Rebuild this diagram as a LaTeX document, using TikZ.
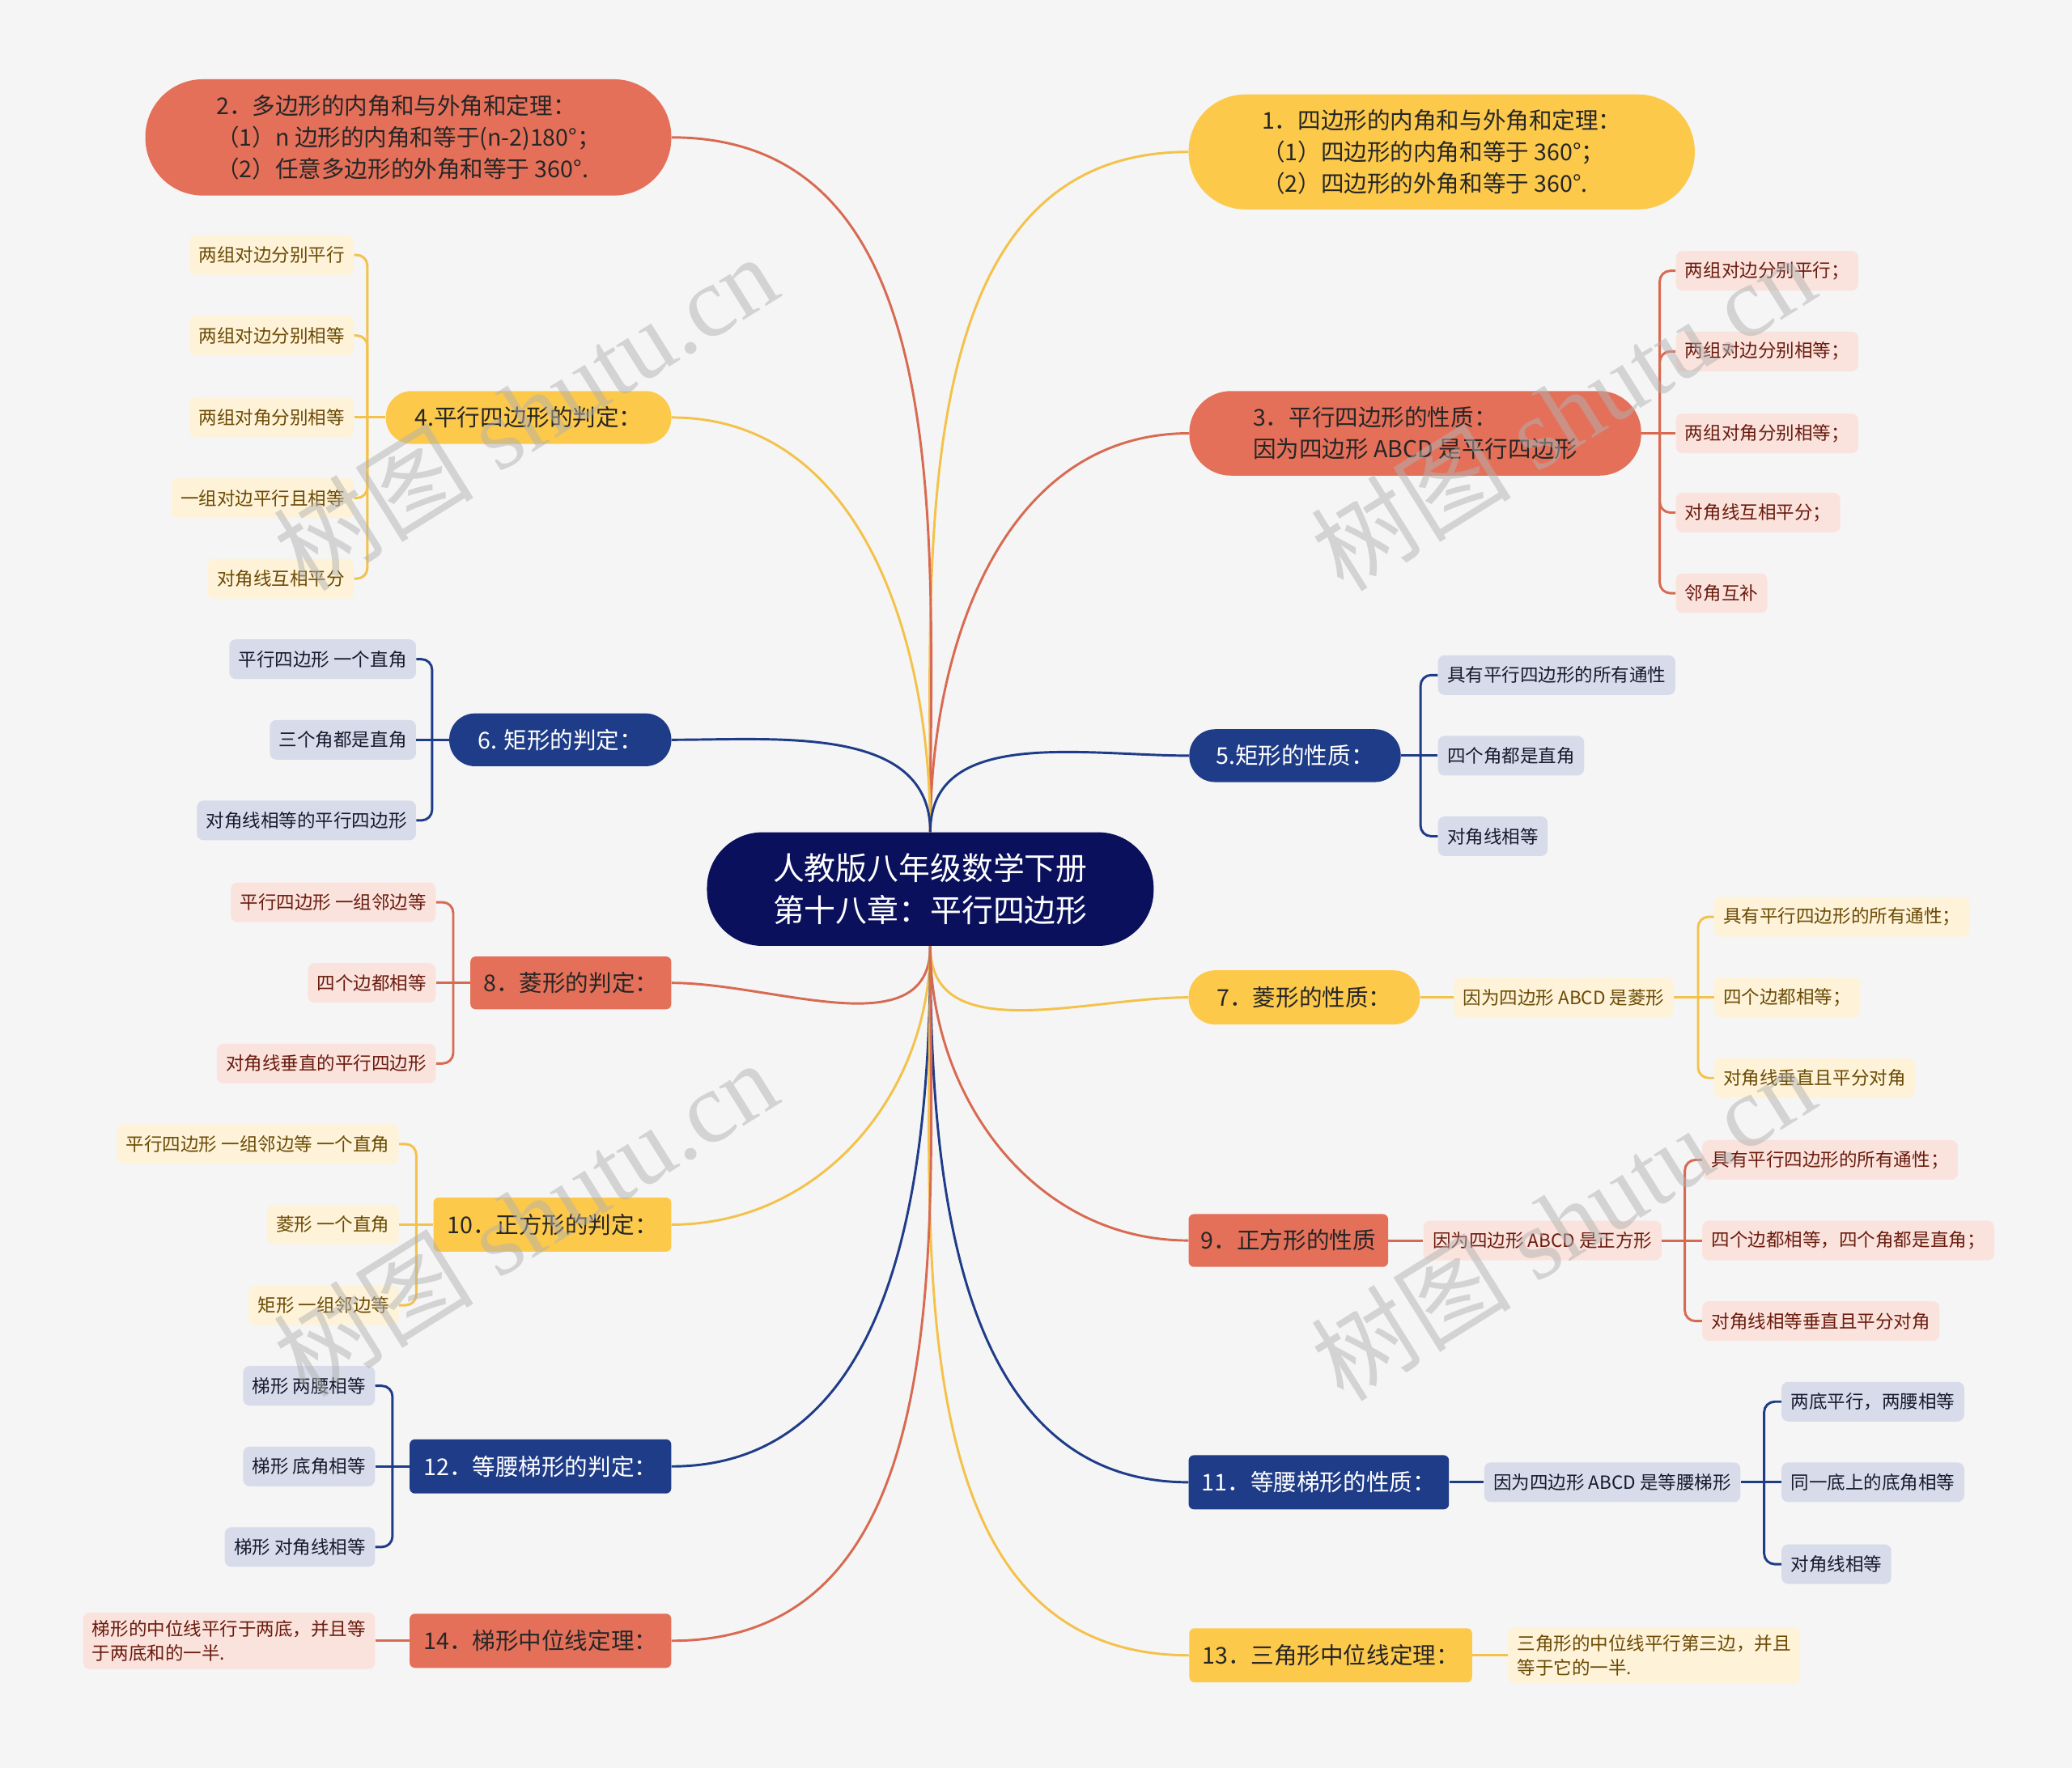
\documentclass[tikz,border=0pt]{standalone}
\usepackage{fontspec}
\setmainfont{Noto Sans CJK SC}
\newfontfamily\wmlatin{Liberation Serif}
\usetikzlibrary{positioning,calc}

\definecolor{paper}{HTML}{F5F5F5}
\definecolor{rootblue}{HTML}{0A105B}
\definecolor{topicred}{HTML}{E4705A}
\definecolor{topicyel}{HTML}{FCC94B}
\definecolor{topicnav}{HTML}{1F3C88}
\definecolor{leafred}{HTML}{FBE3DD}
\definecolor{leafyel}{HTML}{FEF3D8}
\definecolor{leafnav}{HTML}{D8DCEA}
\definecolor{inkred}{HTML}{6A1B0E}
\definecolor{inkyel}{HTML}{6B4A05}
\definecolor{inknav}{HTML}{161A2E}
\definecolor{linkred}{HTML}{D86A52}
\definecolor{linkyel}{HTML}{F4C24A}
\definecolor{linknav}{HTML}{1F3C88}

\begin{document}
\begin{tikzpicture}[
    x=1pt, y=1pt,
    root/.style={fill=rootblue, text=white, rounded corners=42pt, minimum width=338pt, minimum height=86pt, align=center, font=\fontsize{23.8}{32}\selectfont},
    topic/.style={minimum height=40pt, inner sep=0pt, align=left, font=\fontsize{17.5}{24}\selectfont},
    pill/.style={topic, rounded corners=19.5pt},
    tab/.style={topic, rounded corners=4pt},
    redtopic/.style={fill=topicred, text=black!85},
    yeltopic/.style={fill=topicyel, text=black!85},
    navtopic/.style={fill=topicnav, text=white},
    leaf/.style={rounded corners=5pt, minimum height=30pt, inner xsep=7pt, inner ysep=3pt, align=left, font=\fontsize{13.8}{18}\selectfont},
    redleaf/.style={leaf, fill=leafred, text=inkred},
    yelleaf/.style={leaf, fill=leafyel, text=inkyel},
    navleaf/.style={leaf, fill=leafnav, text=inknav},
    redlink/.style={draw=linkred, line width=1.8pt},
    yellink/.style={draw=linkyel, line width=1.8pt},
    navlink/.style={draw=linknav, line width=1.8pt},
    fork/.style={rounded corners=8pt},
    stamp/.style={text=black!30, opacity=0.5, transform shape, inner sep=0pt, anchor=base west, font=\fontsize{76}{76}\selectfont}
]
\useasboundingbox[fill=paper] (0,0) rectangle (1568,-1338);

% centre
\node[root] (root) at (704,-673) {人教版八年级数学下册\\第十八章：平行四边形};

% left branches
\node[pill, redtopic, minimum width=398pt, minimum height=88pt, rounded corners=43.5pt] (n2) at (309,-104) {2．多边形的内角和与外角和定理：\\（1）n 边形的内角和等于(n-2)180°；\\（2）任意多边形的外角和等于 360°.};
\node[pill, yeltopic, minimum width=216pt] (n4) at (400,-316) {4.平行四边形的判定：};
\node[pill, navtopic, minimum width=168pt] (n6) at (424,-560) {6. 矩形的判定：};
\node[tab, redtopic, minimum width=152pt] (n8) at (432,-744) {8．菱形的判定：};
\node[tab, yeltopic, minimum width=180pt, minimum height=41pt] (n10) at (418,-927) {10．正方形的判定：};
\node[tab, navtopic, minimum width=198pt, minimum height=41pt] (n12) at (409,-1110) {12．等腰梯形的判定：};
\node[tab, redtopic, minimum width=198pt, minimum height=41pt] (n14) at (409,-1242) {14．梯形中位线定理：};

% right branches
\node[pill, yeltopic, minimum width=383pt, minimum height=87pt, rounded corners=43pt] (n1) at (1091,-115) {1．四边形的内角和与外角和定理：\\（1）四边形的内角和等于 360°；\\（2）四边形的外角和等于 360°.};
\node[pill, redtopic, minimum width=342pt, minimum height=64pt, rounded corners=31.5pt] (n3) at (1071,-328) {3．平行四边形的性质：\\因为四边形 ABCD 是平行四边形};
\node[pill, navtopic, minimum width=160pt] (n5) at (980,-572) {5.矩形的性质：};
\node[pill, yeltopic, minimum width=175pt, minimum height=41pt, rounded corners=20pt] (n7) at (987,-755) {7．菱形的性质：};
\node[tab, redtopic, minimum width=151pt] (n9) at (975,-939) {9．正方形的性质};
\node[tab, navtopic, minimum width=197pt, minimum height=41pt] (n11) at (998,-1122) {11．等腰梯形的性质：};
\node[tab, yeltopic, minimum width=214pt, minimum height=41pt] (n13) at (1007,-1253) {13．三角形中位线定理：};

% leaves on the left
\node[yelleaf, anchor=east] (n4a) at (268,-193) {两组对边分别平行};
\node[yelleaf, anchor=east] (n4b) at (268,-254) {两组对边分别相等};
\node[yelleaf, anchor=east] (n4c) at (268,-316) {两组对角分别相等};
\node[yelleaf, anchor=east] (n4d) at (268,-377) {一组对边平行且相等};
\node[yelleaf, anchor=east] (n4e) at (268,-438) {对角线互相平分};
\coordinate (j4) at (278,-316);

\node[navleaf, anchor=east] (n6a) at (315,-499) {平行四边形 一个直角};
\node[navleaf, anchor=east] (n6b) at (315,-560) {三个角都是直角};
\node[navleaf, anchor=east] (n6c) at (315,-621) {对角线相等的平行四边形};
\coordinate (j6) at (327,-560);

\node[redleaf, anchor=east] (n8a) at (330,-683) {平行四边形 一组邻边等};
\node[redleaf, anchor=east] (n8b) at (330,-744) {四个边都相等};
\node[redleaf, anchor=east] (n8c) at (330,-805) {对角线垂直的平行四边形};
\coordinate (j8) at (343,-744);

\node[yelleaf, anchor=east] (n10a) at (302,-866) {平行四边形 一组邻边等 一个直角};
\node[yelleaf, anchor=east] (n10b) at (302,-927) {菱形 一个直角};
\node[yelleaf, anchor=east] (n10c) at (302,-988) {矩形 一组邻边等};
\coordinate (j10) at (315,-927);

\node[navleaf, anchor=east] (n12a) at (284,-1049) {梯形 两腰相等};
\node[navleaf, anchor=east] (n12b) at (284,-1110) {梯形 底角相等};
\node[navleaf, anchor=east] (n12c) at (284,-1171) {梯形 对角线相等};
\coordinate (j12) at (297,-1110);

\node[redleaf, anchor=east, inner ysep=6pt] (n14a) at (284,-1242) {梯形的中位线平行于两底，并且等\\于两底和的一半.};

% leaves on the right
\node[redleaf, anchor=west] (n3a) at (1268,-205) {两组对边分别平行；};
\node[redleaf, anchor=west] (n3b) at (1268,-266) {两组对边分别相等；};
\node[redleaf, anchor=west] (n3c) at (1268,-328) {两组对角分别相等；};
\node[redleaf, anchor=west] (n3d) at (1268,-388) {对角线互相平分；};
\node[redleaf, anchor=west] (n3e) at (1268,-449) {邻角互补};
\coordinate (j3) at (1256,-328);

\node[navleaf, anchor=west] (n5a) at (1088,-511) {具有平行四边形的所有通性};
\node[navleaf, anchor=west] (n5b) at (1088,-572) {四个角都是直角};
\node[navleaf, anchor=west] (n5c) at (1088,-633) {对角线相等};
\coordinate (j5) at (1075,-572);

\node[yelleaf, anchor=west] (n7i) at (1100,-755) {因为四边形 ABCD 是菱形};
\node[yelleaf, anchor=west] (n7a) at (1297,-694) {具有平行四边形的所有通性；};
\node[yelleaf, anchor=west] (n7b) at (1297,-755) {四个边都相等；};
\node[yelleaf, anchor=west] (n7c) at (1297,-816) {对角线垂直且平分对角};
\coordinate (j7) at (1285,-755);

\node[redleaf, anchor=west] (n9i) at (1077,-939) {因为四边形 ABCD 是正方形};
\node[redleaf, anchor=west] (n9a) at (1288,-878) {具有平行四边形的所有通性；};
\node[redleaf, anchor=west] (n9b) at (1288,-939) {四个边都相等，四个角都是直角；};
\node[redleaf, anchor=west] (n9c) at (1288,-1000) {对角线相等垂直且平分对角};
\coordinate (j9) at (1275,-939);

\node[navleaf, anchor=west] (n11i) at (1123,-1122) {因为四边形 ABCD 是等腰梯形};
\node[navleaf, anchor=west] (n11a) at (1348,-1061) {两底平行，两腰相等};
\node[navleaf, anchor=west] (n11b) at (1348,-1122) {同一底上的底角相等};
\node[navleaf, anchor=west] (n11c) at (1348,-1184) {对角线相等};
\coordinate (j11) at (1335,-1122);

\node[yelleaf, anchor=west, inner ysep=6pt] (n13a) at (1141,-1253) {三角形的中位线平行第三边，并且\\等于它的一半.};

% centre to branches
\draw[yellink] (root.north) to[out=90,in=180] (n1.west);
\draw[redlink] (root.north) to[out=90,in=0] (n2.east);
\draw[redlink] (root.north) to[out=90,in=180] (n3.west);
\draw[yellink] (root.north) to[out=90,in=0] (n4.east);
\draw[navlink] (root.north) to[out=90,in=180] (n5.west);
\draw[navlink] (root.north) to[out=90,in=0] (n6.east);
\draw[yellink] (root.south) to[out=-90,in=180] (n7.west);
\draw[redlink] (root.south) to[out=-90,in=0] (n8.east);
\draw[redlink] (root.south) to[out=-90,in=180] (n9.west);
\draw[yellink] (root.south) to[out=-90,in=0] (n10.east);
\draw[navlink] (root.south) to[out=-90,in=180] (n11.west);
\draw[navlink] (root.south) to[out=-90,in=0] (n12.east);
\draw[yellink] (root.south) to[out=-90,in=180] (n13.west);
\draw[redlink] (root.south) to[out=-90,in=0] (n14.east);

% forks, left
\draw[yellink] (n4.west) -- (j4);
\draw[yellink, fork] (j4) |- (n4a.east);
\draw[yellink, fork] (j4) |- (n4b.east);
\draw[yellink] (j4) -- (n4c.east);
\draw[yellink, fork] (j4) |- (n4d.east);
\draw[yellink, fork] (j4) |- (n4e.east);

\draw[navlink] (n6.west) -- (j6);
\draw[navlink, fork] (j6) |- (n6a.east);
\draw[navlink] (j6) -- (n6b.east);
\draw[navlink, fork] (j6) |- (n6c.east);

\draw[redlink] (n8.west) -- (j8);
\draw[redlink, fork] (j8) |- (n8a.east);
\draw[redlink] (j8) -- (n8b.east);
\draw[redlink, fork] (j8) |- (n8c.east);

\draw[yellink] (n10.west) -- (j10);
\draw[yellink, fork] (j10) |- (n10a.east);
\draw[yellink] (j10) -- (n10b.east);
\draw[yellink, fork] (j10) |- (n10c.east);

\draw[navlink] (n12.west) -- (j12);
\draw[navlink, fork] (j12) |- (n12a.east);
\draw[navlink] (j12) -- (n12b.east);
\draw[navlink, fork] (j12) |- (n12c.east);

\draw[redlink] (n14.west) -- (n14a.east);

% forks, right
\draw[redlink] (n3.east) -- (j3);
\draw[redlink, fork] (j3) |- (n3a.west);
\draw[redlink, fork] (j3) |- (n3b.west);
\draw[redlink] (j3) -- (n3c.west);
\draw[redlink, fork] (j3) |- (n3d.west);
\draw[redlink, fork] (j3) |- (n3e.west);

\draw[navlink] (n5.east) -- (j5);
\draw[navlink, fork] (j5) |- (n5a.west);
\draw[navlink] (j5) -- (n5b.west);
\draw[navlink, fork] (j5) |- (n5c.west);

\draw[yellink] (n7.east) -- (n7i.west);
\draw[yellink] (n7i.east) -- (j7);
\draw[yellink, fork] (j7) |- (n7a.west);
\draw[yellink] (j7) -- (n7b.west);
\draw[yellink, fork] (j7) |- (n7c.west);

\draw[redlink] (n9.east) -- (n9i.west);
\draw[redlink] (n9i.east) -- (j9);
\draw[redlink, fork] (j9) |- (n9a.west);
\draw[redlink] (j9) -- (n9b.west);
\draw[redlink, fork] (j9) |- (n9c.west);

\draw[navlink] (n11.east) -- (n11i.west);
\draw[navlink] (n11i.east) -- (j11);
\draw[navlink, fork] (j11) |- (n11a.west);
\draw[navlink] (j11) -- (n11b.west);
\draw[navlink, fork] (j11) |- (n11c.west);

\draw[yellink] (n13.east) -- (n13a.west);

% watermark
\begin{scope}[shift={(397,-312)}, rotate=32]
  \node[stamp] (wm1a) at (-213,-29) {树图};
  \node[stamp] (wm1b) at (-42,-29) {\wmlatin shutu.cn};
\end{scope}
\begin{scope}[shift={(1182,-312)}, rotate=32]
  \node[stamp] (wm2a) at (-213,-29) {树图};
  \node[stamp] (wm2b) at (-42,-29) {\wmlatin shutu.cn};
\end{scope}
\begin{scope}[shift={(397,-922)}, rotate=32]
  \node[stamp] (wm3a) at (-213,-29) {树图};
  \node[stamp] (wm3b) at (-42,-29) {\wmlatin shutu.cn};
\end{scope}
\begin{scope}[shift={(1182,-925)}, rotate=32]
  \node[stamp] (wm4a) at (-213,-29) {树图};
  \node[stamp] (wm4b) at (-42,-29) {\wmlatin shutu.cn};
\end{scope}
\end{tikzpicture}
\end{document}
